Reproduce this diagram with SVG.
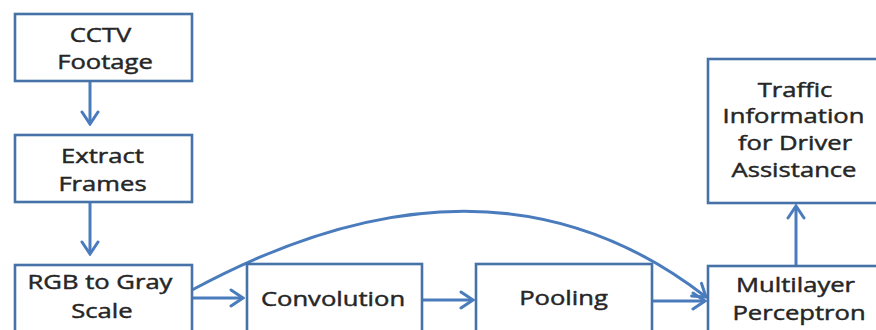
<svg xmlns="http://www.w3.org/2000/svg" width="876" height="330" viewBox="0 0 876 330">
<defs>
<style>
.box{fill:#ffffff;stroke:#4672a8;stroke-width:2.6}
.lbl{font-family:"Open Sans","Liberation Sans",sans-serif;font-size:20px;fill:#262626;stroke:#262626;stroke-width:0.45;text-anchor:middle}
.conn{fill:none;stroke:#4a7cbd;stroke-width:3;marker-end:url(#arr)}
</style>
<marker id="arr" markerUnits="userSpaceOnUse" viewBox="-16 -11 18 22" refX="0" refY="0" markerWidth="18" markerHeight="22" orient="auto">
<path d="M-12,-8 L0,0 L-12,8" fill="none" stroke="#4a7cbd" stroke-width="3" stroke-linecap="round" stroke-linejoin="miter"/>
</marker>
</defs>
<rect width="876" height="330" fill="#ffffff"/>
<g id="connectors">
<path class="conn" d="M90,81 V124"/>
<path class="conn" d="M90,202 V254"/>
<path class="conn" d="M192,298 H243"/>
<path class="conn" d="M422,300 H473"/>
<path class="conn" d="M652,301 H705"/>
<path class="conn" d="M796,266 V206"/>
<path class="conn" d="M192,290 Q490,129 706,297"/>
</g>
<g id="cctv">
<rect class="box" x="15" y="14" width="177" height="67"/>
<text class="lbl" transform="translate(100.5,42) scale(1.28,1)">CCTV</text>
<text class="lbl" transform="translate(105,69) scale(1.28,1)">Footage</text>
</g>
<g id="extract">
<rect class="box" x="15" y="135" width="177" height="67"/>
<text class="lbl" transform="translate(102.5,163) scale(1.28,1)">Extract</text>
<text class="lbl" transform="translate(102.5,191) scale(1.28,1)">Frames</text>
</g>
<g id="rgb">
<rect class="box" x="15" y="265" width="177" height="80"/>
<text class="lbl" transform="translate(100,289) scale(1.28,1)">RGB to Gray</text>
<text class="lbl" transform="translate(102,318) scale(1.28,1)">Scale</text>
</g>
<g id="convolution">
<rect class="box" x="247" y="264" width="175" height="80"/>
<text class="lbl" transform="translate(333,306) scale(1.28,1)">Convolution</text>
</g>
<g id="pooling">
<rect class="box" x="476" y="264" width="176" height="80"/>
<text class="lbl" transform="translate(563.5,305) scale(1.28,1)">Pooling</text>
</g>
<g id="mlp">
<rect class="box" x="708" y="266" width="177" height="80"/>
<text class="lbl" transform="translate(795.5,292) scale(1.28,1)">Multilayer</text>
<text class="lbl" transform="translate(799,320) scale(1.28,1)">Perceptron</text>
</g>
<g id="traffic">
<rect class="box" x="708" y="59" width="177" height="144"/>
<text class="lbl" transform="translate(795,97) scale(1.28,1)">Traffic</text>
<text class="lbl" transform="translate(793.5,123) scale(1.28,1)">Information</text>
<text class="lbl" transform="translate(795,150) scale(1.28,1)">for Driver</text>
<text class="lbl" transform="translate(794,177) scale(1.28,1)">Assistance</text>
</g>
</svg>
